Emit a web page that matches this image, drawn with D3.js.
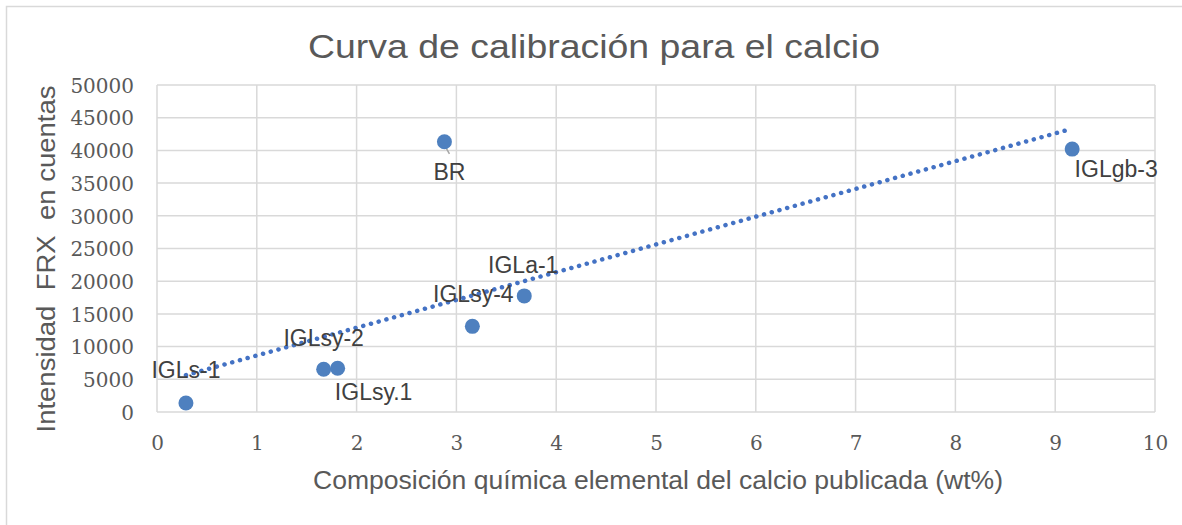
<!DOCTYPE html>
<html>
<head>
<meta charset="utf-8">
<script src="https://cdnjs.cloudflare.com/ajax/libs/d3/7.8.5/d3.min.js"></script>
<style>
  body { margin: 0; background: white; }
</style>
</head>
<body>
<div id="chart"></div>
<script>
// data
var sampleNames = ['IGLs-1', 'IGLsy-2', 'IGLsy.1', 'BR', 'IGLsy-4', 'IGLa-1', 'IGLgb-3'];
var calcioWt = [0.29, 1.67, 1.81, 2.88, 3.16, 3.68, 9.17];
var intensidad = [1380, 6530, 6690, 41320, 13100, 17750, 40200];
var xTicks = [0, 1, 2, 3, 4, 5, 6, 7, 8, 9, 10];
var yTicks = [0, 5000, 10000, 15000, 20000, 25000, 30000, 35000, 40000, 45000, 50000];

// where each data label sits relative to its point (dx, dy to baseline)
var labelOffsets = [[0, -25], [0, -23], [36, 32], [5, 38], [1, -24], [-1, -23], [44, 28]];

var w = 1182, h = 525;
var margin = {left: 157, right: 27, top: 85, bottom: 113};
var gray = '#595959';
var gridColor = '#d9d9d9';
var dotColor = '#4e80bf';

var svg = d3.select('#chart').append('svg')
  .attr('width', w)
  .attr('height', h)
  .style('display', 'block');

// outer chart border (only left / top fall inside the picture)
svg.append('rect')
  .attr('x', 6.5).attr('y', 6.5)
  .attr('width', w + 20).attr('height', h + 20)
  .attr('fill', 'white')
  .attr('stroke', gridColor)
  .attr('stroke-width', 1.5);

var x = d3.scaleLinear().domain([0, 10]).range([margin.left, w - margin.right]);
var y = d3.scaleLinear().domain([0, 50000]).range([h - margin.bottom, margin.top]);

// grid
svg.append('g').selectAll('line.v')
  .data(xTicks)
  .enter().append('line')
  .attr('x1', function(d) { return x(d); })
  .attr('x2', function(d) { return x(d); })
  .attr('y1', y(0)).attr('y2', y(50000))
  .attr('stroke', gridColor).attr('stroke-width', 1.5);

svg.append('g').selectAll('line.h')
  .data(yTicks)
  .enter().append('line')
  .attr('y1', function(d) { return y(d); })
  .attr('y2', function(d) { return y(d); })
  .attr('x1', x(0)).attr('x2', x(10))
  .attr('stroke', gridColor).attr('stroke-width', 1.5);

// axes (tick labels only)
var xAxis = svg.append('g')
  .attr('transform', 'translate(0,' + y(0) + ')')
  .call(d3.axisBottom(x).tickValues(xTicks).tickSize(0).tickPadding(0).tickFormat(d3.format('d')));
xAxis.select('.domain').remove();
xAxis.selectAll('text')
  .attr('y', 38)
  .attr('dy', null)
  .attr('fill', gray)
  .style('font-family', "'DejaVu Serif', serif")
  .style('font-size', '20px');

var yAxis = svg.append('g')
  .attr('transform', 'translate(' + x(0) + ',0)')
  .call(d3.axisLeft(y).tickValues(yTicks).tickSize(0).tickPadding(23).tickFormat(d3.format('d')));
yAxis.select('.domain').remove();
yAxis.selectAll('text')
  .attr('dy', '0.36em')
  .attr('fill', gray)
  .style('font-family', "'DejaVu Serif', serif")
  .style('font-size', '20px');

// titles
svg.append('text')
  .attr('x', 594).attr('y', 58)
  .attr('text-anchor', 'middle')
  .attr('fill', gray)
  .attr('textLength', 572).attr('lengthAdjust', 'spacingAndGlyphs')
  .style('font-family', "'Liberation Sans', Arial, sans-serif")
  .style('font-size', '34px')
  .text('Curva de calibración para el calcio');

svg.append('text')
  .attr('x', 658).attr('y', 489)
  .attr('text-anchor', 'middle')
  .attr('fill', gray)
  .attr('textLength', 690).attr('lengthAdjust', 'spacingAndGlyphs')
  .style('font-family', "'Liberation Sans', Arial, sans-serif")
  .style('font-size', '26px')
  .text('Composición química elemental del calcio publicada (wt%)');

svg.append('text')
  .attr('transform', 'translate(55,259) rotate(-90)')
  .attr('text-anchor', 'middle')
  .attr('fill', gray)
  .attr('textLength', 347).attr('lengthAdjust', 'spacingAndGlyphs')
  .style('font-family', "'Liberation Sans', Arial, sans-serif")
  .style('font-size', '26px')
  .style('white-space', 'pre')
  .text('Intensidad  FRX  en cuentas');

// linear trendline (least squares over the points)
var mx = d3.mean(calcioWt), my = d3.mean(intensidad);
var sxy = d3.sum(calcioWt, function(v, i) { return (v - mx) * (intensidad[i] - my); });
var sxx = d3.sum(calcioWt, function(v) { return (v - mx) * (v - mx); });
var slope = sxy / sxx;
var intercept = my - slope * mx;
var xExt = d3.extent(calcioWt);

svg.append('line')
  .attr('x1', x(xExt[0])).attr('y1', y(intercept + slope * xExt[0]))
  .attr('x2', x(xExt[1])).attr('y2', y(intercept + slope * xExt[1]))
  .attr('stroke', '#4472c4')
  .attr('stroke-width', 4.5)
  .attr('stroke-linecap', 'round')
  .attr('stroke-dasharray', '0.1 7.9');

// leader line for BR
var brIdx = sampleNames.indexOf('BR');
svg.append('line')
  .attr('x1', x(calcioWt[brIdx])).attr('y1', y(intensidad[brIdx]) + 3)
  .attr('x2', x(calcioWt[brIdx]) + 5).attr('y2', y(intensidad[brIdx]) + 12)
  .attr('stroke', '#a6a6a6').attr('stroke-width', 1.5);

// points
svg.append('g').selectAll('circle')
  .data(sampleNames)
  .enter().append('circle')
  .attr('cx', function(d, i) { return x(calcioWt[i]); })
  .attr('cy', function(d, i) { return y(intensidad[i]); })
  .attr('r', 7.5)
  .attr('fill', dotColor);

// data labels
svg.append('g').selectAll('text')
  .data(sampleNames)
  .enter().append('text')
  .attr('x', function(d, i) { return x(calcioWt[i]) + labelOffsets[i][0]; })
  .attr('y', function(d, i) { return y(intensidad[i]) + labelOffsets[i][1]; })
  .attr('text-anchor', 'middle')
  .attr('fill', '#404040')
  .style('font-family', "'Liberation Sans', Arial, sans-serif")
  .style('font-size', '23px')
  .text(function(d) { return d; });
</script>
</body>
</html>
